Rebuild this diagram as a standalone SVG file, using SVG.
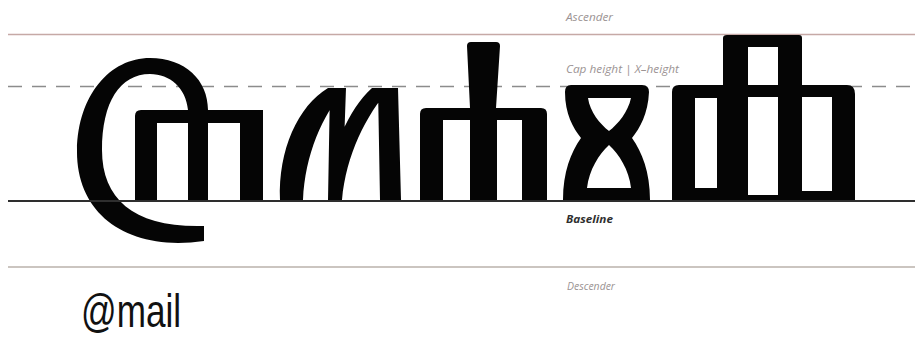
<svg xmlns="http://www.w3.org/2000/svg" width="915" height="338" viewBox="0 0 915 338">
<style>
.lbl{font-family:"Open Sans","Noto Sans",sans-serif;font-style:italic;font-size:10px;fill:#9b9393}
.g{fill:#050505}
</style>
<rect width="915" height="338" fill="#ffffff"/>
<g id="guides">
<line x1="8" y1="34.5" x2="915" y2="34.5" stroke="#c6a9a6" stroke-width="1.5"/>
<line x1="8" y1="86.5" x2="915" y2="86.5" stroke="#8c8c8c" stroke-width="1.6" stroke-dasharray="14 10"/>
<line x1="8" y1="267" x2="915" y2="267" stroke="#cbc5c0" stroke-width="2"/>
</g>
<g id="glyphs">
<path id="glyph1" class="g" fill-rule="evenodd" d="M204 241 C128 252 76 215 77 150 C78 95 110 58 150 58 C185 58 208 80 208 110 L263 110 L263 200 L240 200 L240 123 L208 123 L208 200 L188 200 L188 123 L157 123 L157 200 L135 200 L135 116 Q135 110 141 110 L188 110 C186 88 170 74 150 74 C120 74 102 102 102 150 C102 200 135 228 204 226 Z"/>
<path id="glyph2" class="g" d="M280 200 C278 150 298 106 328 88 L346 88 C322 115 305 155 303 200 Z M330 88 L346 88 L342 200 L328 200 Z M328 200 C330 150 348 110 372 88 L390 88 C366 115 346 155 342 200 Z M378 88 L398 88 L401 200 L380 200 Z"/>
<path id="glyph3" class="g" d="M420 200 L420 114 Q420 108 426 108 L470 108 L467 46 Q467 42 471 42 L496 42 Q500 42 500 46 L496 108 L541 108 Q547 108 547 114 L547 200 L522 200 L522 120 L497 120 L497 200 L470 200 L470 120 L443 120 L443 200 Z"/>
<path id="glyph4" class="g" fill-rule="evenodd" d="M571 85 L642 85 Q649 85 649 92 C648 114 640 128 632 138 C642 152 650 172 650 200 L563 200 C563 172 571 152 581 138 C573 128 565 114 565 92 Q565 85 571 85 Z M588 98 L631 98 C628 112 618 124 609 131 C600 124 590 112 588 98 Z M609 145 C619 154 629 170 631 188 L587 188 C589 170 599 154 609 145 Z"/>
<path id="glyph5" class="g" fill-rule="evenodd" d="M672 200 L672 92 Q672 85 679 85 L723 85 L723 38 Q723 35 727 35 L799 35 Q802 35 802 38 L802 85 L847 85 Q855 85 855 94 L855 200 Z M748 47 L778 47 L778 85 L748 85 Z M695 98 L717 98 L717 188 L695 188 Z M748 97 L778 97 L778 195 L748 195 Z M802 97 L832 97 L832 191 L802 191 Z"/>
</g>
<g id="baseline">
<line x1="8" y1="201" x2="915" y2="201" stroke="#2e2e2e" stroke-width="2.2"/>
</g>
<g id="labels">
<text class="lbl" x="566" y="21" textLength="47" lengthAdjust="spacingAndGlyphs">Ascender</text>
<text class="lbl" x="566" y="73" textLength="113" lengthAdjust="spacingAndGlyphs">Cap height | X–height</text>
<text class="lbl" x="566" y="223" style="font-weight:700;fill:#2f2f2f" textLength="47" lengthAdjust="spacingAndGlyphs">Baseline</text>
<text class="lbl" x="567" y="290" textLength="48" lengthAdjust="spacingAndGlyphs">Descender</text>
<text x="81" y="327" font-family="'Liberation Sans','Open Sans',sans-serif" font-size="47" fill="#111" textLength="100" lengthAdjust="spacingAndGlyphs">@mail</text>
</g>
</svg>
